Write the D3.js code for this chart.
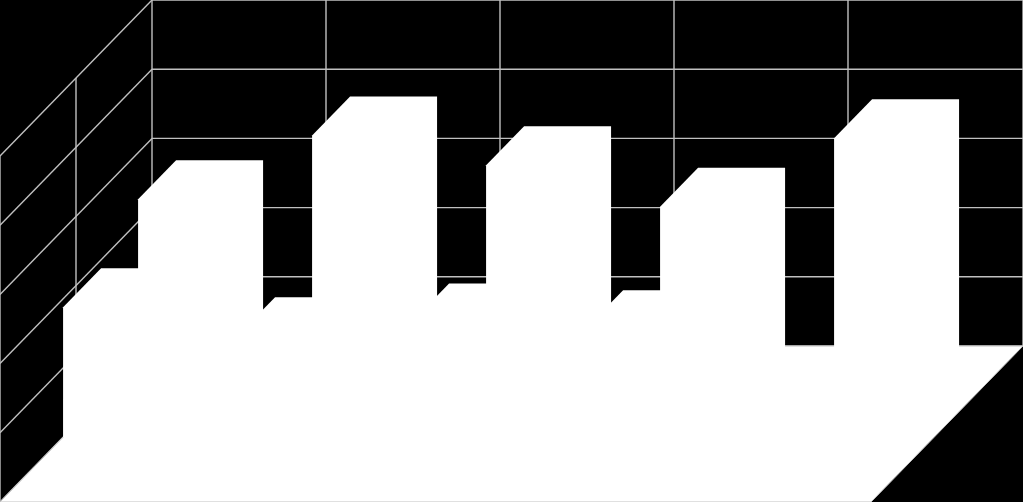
<!DOCTYPE html>
<html>
<head>
<meta charset="utf-8">
<script src="https://cdn.jsdelivr.net/npm/d3@7"></script>
<style>
    html, body { margin: 0; padding: 0; background: #000; overflow: hidden; }
    svg { display: block; }
</style>
</head>
<body>
<div id="chart"></div>
<script>
const categories = ["1", "2", "3", "4", "5"];
const seriesFront = [1.88, 1.46, 1.66, 1.56, 0];
const seriesBack = [3.44, 4.36, 3.93, 3.33, 4.32];
const yTicks = [0, 1, 2, 3, 4, 5];

const width = 1023;
const height = 502;
const depthX = 152;
const depthY = 156;
const floorWidth = 871;
const lineColor = "#c0c0c0";

const svg = d3.select("#chart").append("svg")
    .attr("width", width)
    .attr("height", height)
    .style("background", "#000");

// floor position along the front edge
const x = d3.scaleBand().domain(categories).range([0, 870]);
const y = d3.scaleLinear().domain([0, 5]).range([0, 346]);
const zx = d3.scaleLinear().domain([0, 1]).range([0, depthX]);
const zy = d3.scaleLinear().domain([0, 1]).range([0, depthY]);

// floor x, value, depth -> screen
const project = (fx, v, z) => [fx + zx(z), height - zy(z) - y(v)];
const poly = d3.line();

const barWidth = 87;
const barFrontZ = 0.415;
const barBackZ = 0.665;
const secondOffset = 75;

function wallLine(p1, p2) {
    svg.append("line")
        .attr("x1", p1[0]).attr("y1", p1[1])
        .attr("x2", p2[0]).attr("y2", p2[1])
        .attr("stroke", lineColor)
        .attr("stroke-width", 1.4);
}

// back wall and left wall grid
yTicks.forEach((t) => {
    wallLine(project(0, t, 0), project(0, t, 1));
    wallLine(project(0, t, 1), project(floorWidth, t, 1));
});
categories.forEach((c) => wallLine(project(x(c), 0, 1), project(x(c), 5, 1)));
wallLine(project(floorWidth, 0, 1), project(floorWidth, 5, 1));
[0, 0.5].forEach((z) => wallLine(project(0, 0, z), project(0, 5, z)));

// floor
svg.append("path")
    .attr("d", poly([project(0, 0, 0), project(0, 0, 1), project(floorWidth, 0, 1), project(floorWidth, 0, 0)]) + "Z")
    .attr("fill", "#fff")
    .attr("stroke", lineColor)
    .attr("stroke-width", 1);

function barShape(fx, v) {
    return poly([
        project(fx, 0, barFrontZ),
        project(fx, v, barFrontZ),
        project(fx, v, barBackZ),
        project(fx + barWidth, v, barBackZ),
        project(fx + barWidth, 0, barBackZ),
        project(fx + barWidth, 0, barFrontZ),
    ]) + "Z";
}

categories.forEach((c, i) => {
    [[seriesFront[i], 0], [seriesBack[i], secondOffset]].forEach(([v, off]) => {
        svg.append("path")
            .attr("d", barShape(x(c) + off, v))
            .attr("fill", "#fff");
    });
});
</script>
</body>
</html>
